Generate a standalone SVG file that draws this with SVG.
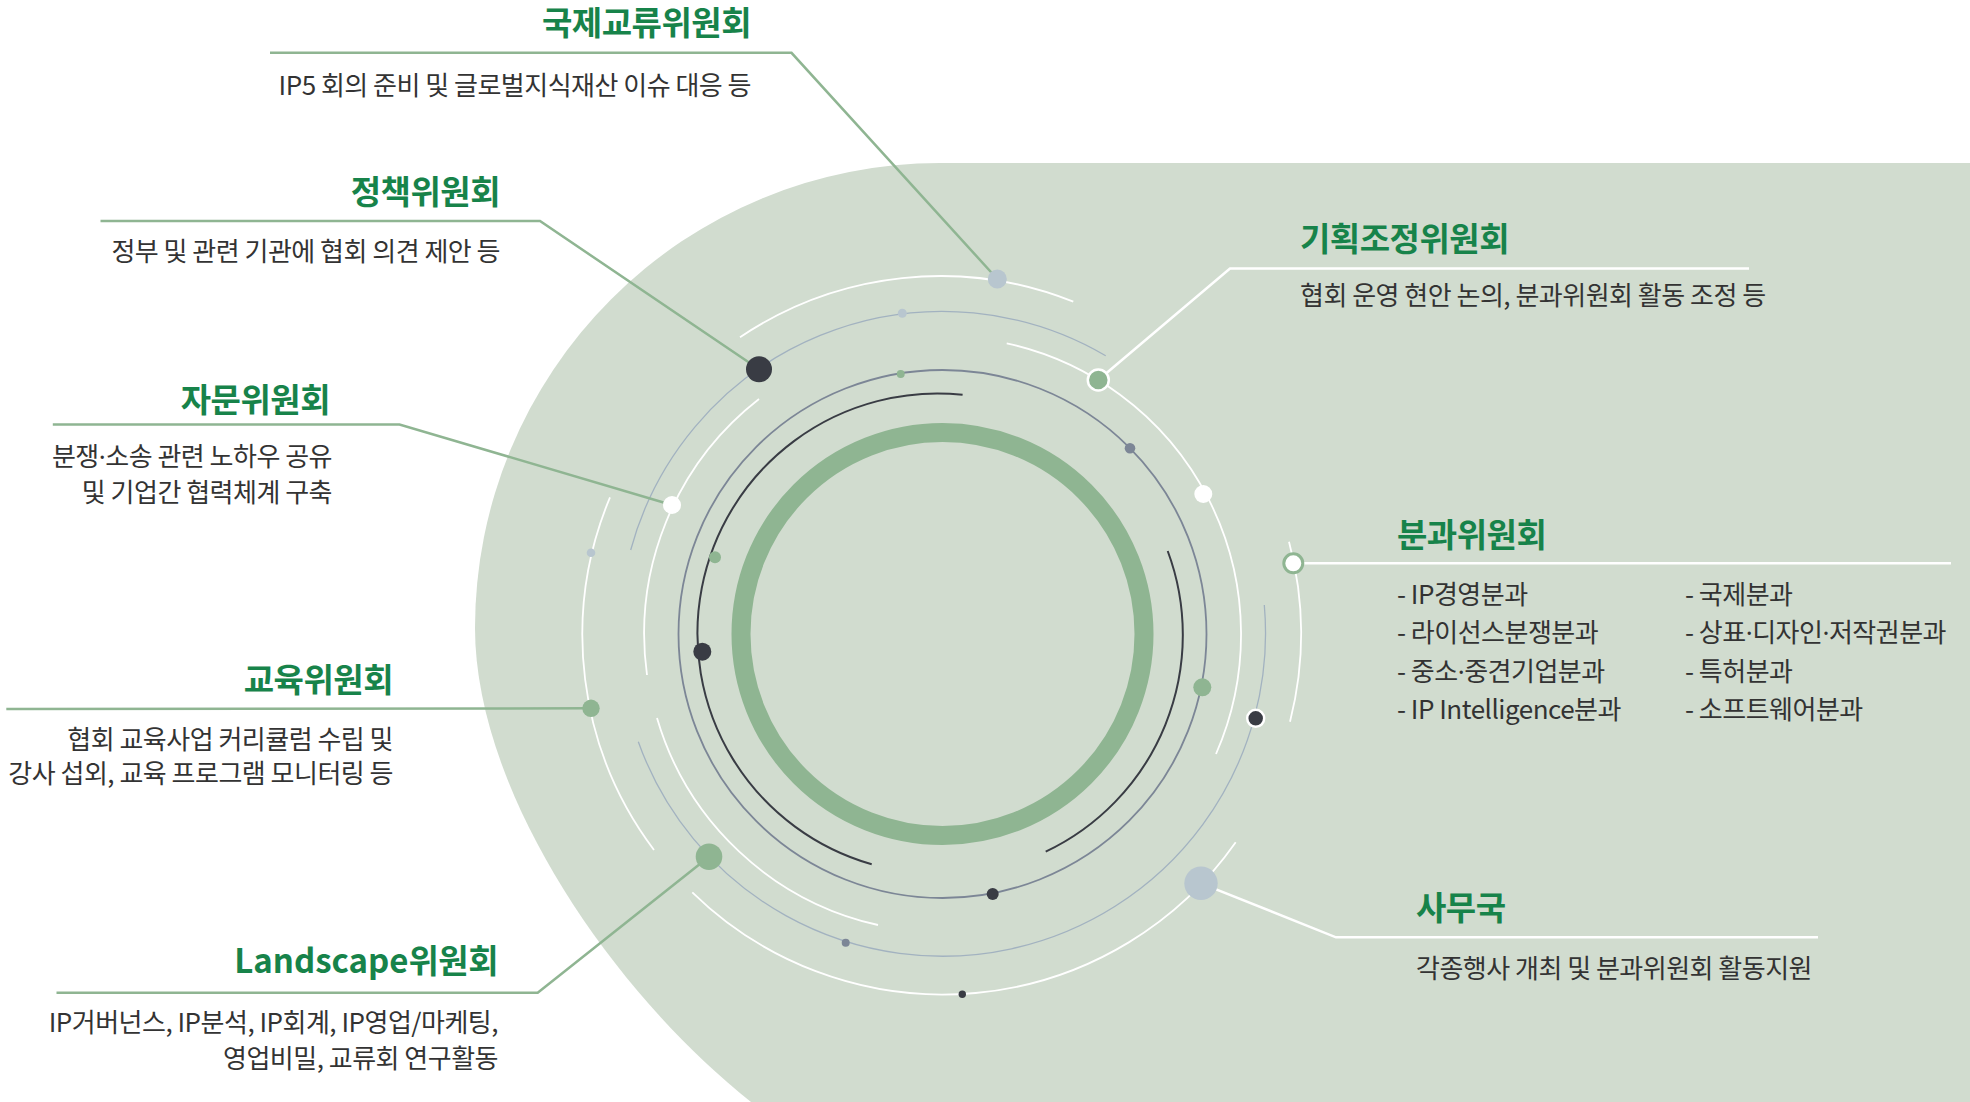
<svg xmlns="http://www.w3.org/2000/svg" width="1970" height="1102" viewBox="0 0 1970 1102">
<style>
.title{font-family:"Noto Sans CJK KR","Noto Sans",sans-serif;font-weight:700;font-size:33px;fill:#17834a;letter-spacing:-0.5px}
.desc{font-family:"Noto Sans CJK KR","Noto Sans",sans-serif;font-weight:400;font-size:26px;fill:#333333;letter-spacing:-0.5px}
.end{text-anchor:end}
.dot{font-family:"Noto Sans",sans-serif}
.gline{fill:none;stroke:#8fb592;stroke-width:2.5}
.wline{fill:none;stroke:#ffffff;stroke-width:2.5}
.warc{fill:none;stroke:#ffffff;stroke-width:1.8}
.barc{fill:none;stroke:#a2b2c0;stroke-width:1.3}
.sarc{fill:none;stroke:#7c8696;stroke-width:1.8}
.darc{fill:none;stroke:#393c44;stroke-width:2}
.dk{fill:#393c44}
.gr{fill:#8fb592}
.lg{fill:#b8c6cf}
.gy{fill:#7c8696}
.wh{fill:#ffffff}
</style>
<rect width="1970" height="1102" fill="#ffffff"/>
<path id="backdrop" d="M1970 163 L940 163 A465 465 0 0 0 475 628 C475 790 610 990 751 1102 L1970 1102 Z" fill="#d1dccf"/>
<g id="rings">
<circle cx="942.5" cy="634" r="201.5" fill="none" stroke="#8fb592" stroke-width="19"/>
<path class="darc" d="M962.6 394.8 A240 240 0 0 0 871.7 864.3"/>
<path class="darc" d="M1167.7 551 A240 240 0 0 1 1045.7 851.7"/>
<circle class="sarc" cx="942.5" cy="634" r="264"/>
<path class="barc" d="M630.7 550 A323 323 0 0 1 1105.7 355.7"/>
<path class="barc" d="M1264.3 605 A323 323 0 0 1 638.3 741.7"/>
<path class="warc" d="M1006.7 343.3 A298 298 0 0 1 1216 754"/>
<path class="warc" d="M759 399 A298 298 0 0 0 647 675"/>
<path class="warc" d="M657 718 A298 298 0 0 0 878 925"/>
<path class="warc" d="M740 337.3 A358 358 0 0 1 1073.3 301.7"/>
<path class="warc" d="M1289 541.7 A358 358 0 0 1 1290 721.7"/>
<path class="warc" d="M1235.7 842.3 A358 358 0 0 1 692.3 892.3"/>
<path class="warc" d="M610 497.3 A358 358 0 0 0 654 850"/>
<circle class="lg" cx="902.3" cy="313.3" r="4.5"/>
<circle class="gr" cx="900.7" cy="374" r="4"/>
<circle class="gy" cx="1130" cy="448.3" r="5.3"/>
<circle class="wh" cx="1203.3" cy="494" r="9"/>
<circle class="lg" cx="591" cy="552.7" r="4.3"/>
<circle class="gr" cx="715" cy="557.3" r="6"/>
<circle class="dk" cx="702.3" cy="651.7" r="9"/>
<circle class="gr" cx="1202.3" cy="687.3" r="9"/>
<circle class="dk" cx="1255.7" cy="718.3" r="8.5" stroke="#ffffff" stroke-width="2.5"/>
<circle class="dk" cx="992.7" cy="894" r="6"/>
<circle class="gy" cx="845.7" cy="942.7" r="4"/>
<circle class="dk" cx="962.3" cy="994.3" r="3.7"/>
</g>
<g id="connectors">
<polyline class="gline" points="270,52.8 791.5,52.8 997.3,279"/>
<polyline class="gline" points="100.5,221 540,221 759,369.3"/>
<polyline class="gline" points="52.8,424.5 399.5,424.5 672,505"/>
<polyline class="gline" points="6.3,709 591,708.3"/>
<polyline class="gline" points="56.5,992.7 537.7,992.7 709,856.7"/>
<polyline class="wline" points="1098.3,380 1230,268.5 1749,268.5"/>
<polyline class="wline" points="1293.3,563.3 1951,563.3"/>
<polyline class="wline" points="1201,883.3 1336,937.3 1818,937.3"/>
</g>
<g id="node-international">
<circle class="lg" cx="997.3" cy="279" r="9.5"/>
<text class="title end" x="751" y="35">국제교류위원회</text>
<text class="desc end" x="751" y="95">IP5 회의 준비 및 글로벌지식재산 이슈 대응 등</text>
</g>
<g id="node-policy">
<circle class="dk" cx="759" cy="369.3" r="13"/>
<text class="title end" x="500" y="204">정책위원회</text>
<text class="desc end" x="500" y="261">정부 및 관련 기관에 협회 의견 제안 등</text>
</g>
<g id="node-advisory">
<circle class="wh" cx="672" cy="505" r="9"/>
<text class="title end" x="330" y="412">자문위원회</text>
<text class="desc end" x="332" y="466">분쟁<tspan class="dot">·</tspan>소송 관련 노하우 공유</text>
<text class="desc end" x="332" y="502">및 기업간 협력체계 구축</text>
</g>
<g id="node-education">
<circle class="gr" cx="591" cy="708.3" r="8.7"/>
<text class="title end" x="393" y="692">교육위원회</text>
<text class="desc end" x="393" y="749">협회 교육사업 커리큘럼 수립 및</text>
<text class="desc end" x="393" y="783">강사 섭외, 교육 프로그램 모니터링 등</text>
</g>
<g id="node-landscape">
<circle class="gr" cx="709" cy="856.7" r="13.3"/>
<text class="title end" x="498" y="973"><tspan letter-spacing="0">Landscape</tspan>위원회</text>
<text class="desc end" x="498" y="1032">IP거버넌스, IP분석, IP회계, IP영업/마케팅,</text>
<text class="desc end" x="498" y="1068">영업비밀, 교류회 연구활동</text>
</g>
<g id="node-planning">
<circle class="gr" cx="1098.3" cy="380" r="10.5" stroke="#ffffff" stroke-width="2.5"/>
<text class="title" x="1300" y="251">기획조정위원회</text>
<text class="desc" x="1300" y="305">협회 운영 현안 논의, 분과위원회 활동 조정 등</text>
</g>
<g id="node-divisions">
<circle class="wh" cx="1293.3" cy="563.3" r="9.5" stroke="#8fb592" stroke-width="3"/>
<text class="title" x="1397" y="547">분과위원회</text>
<text class="desc" x="1397" y="604">- IP경영분과</text>
<text class="desc" x="1397" y="642">- 라이선스분쟁분과</text>
<text class="desc" x="1397" y="681">- 중소<tspan class="dot">·</tspan>중견기업분과</text>
<text class="desc" x="1397" y="719">- IP Intelligence분과</text>
<text class="desc" x="1685" y="604">- 국제분과</text>
<text class="desc" x="1685" y="642">- 상표<tspan class="dot">·</tspan>디자인<tspan class="dot">·</tspan>저작권분과</text>
<text class="desc" x="1685" y="681">- 특허분과</text>
<text class="desc" x="1685" y="719">- 소프트웨어분과</text>
</g>
<g id="node-secretariat">
<circle class="lg" cx="1201" cy="883.3" r="16.7"/>
<text class="title" x="1416" y="920">사무국</text>
<text class="desc" x="1416" y="978">각종행사 개최 및 분과위원회 활동지원</text>
</g>
</svg>
